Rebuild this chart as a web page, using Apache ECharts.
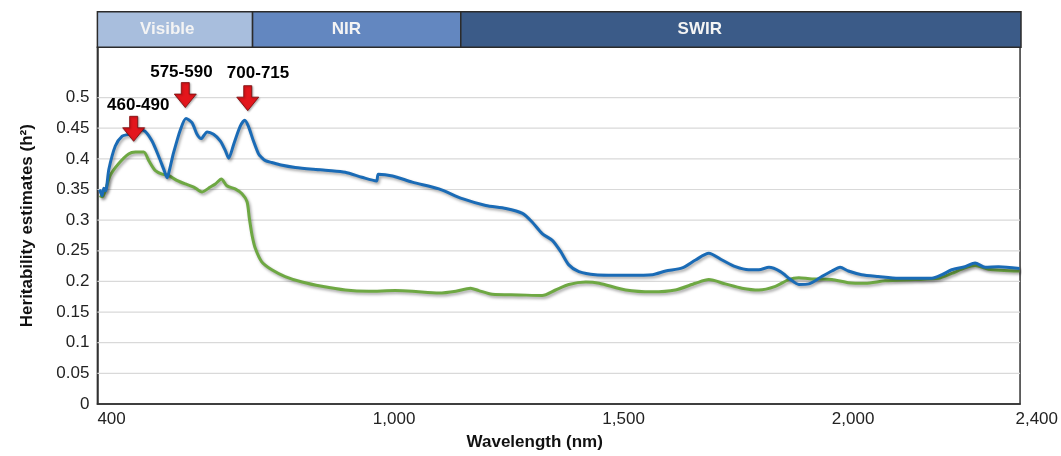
<!DOCTYPE html>
<html>
<head>
<meta charset="utf-8">
<script src="https://cdn.jsdelivr.net/npm/echarts@6/dist/echarts.min.js"></script>
<style>
html,body{margin:0;padding:0;background:#fff;}
#chart{width:1061px;height:456px;}
</style>
</head>
<body>
<div id="chart"></div>
<script>
// ---- data ----
const blueData = [
[405,0.350],[410,0.340],[414,0.352],[418,0.348],[425,0.383],[439,0.421],[454,0.437],[468,0.440],[480,0.444],[490,0.448],
[504,0.445],[519,0.429],[533,0.405],[545,0.382],[552,0.369],[558,0.385],[566,0.410],[581,0.448],[593,0.466],[606,0.459],
[617,0.440],[626,0.433],[639,0.444],[653,0.440],[668,0.429],[679,0.413],[686,0.401],[697,0.424],[711,0.453],[721,0.463],
[729,0.453],[740,0.429],[751,0.408],[758,0.402],[766,0.397],[780,0.394],[800,0.390],[831,0.386],[870,0.383],[903,0.381],
[940,0.378],[976,0.370],[1008,0.364],[1012,0.375],[1043,0.372],[1086,0.362],[1144,0.351],[1195,0.335],[1246,0.324],[1290,0.319],
[1326,0.311],[1347,0.297],[1369,0.278],[1391,0.267],[1409,0.249],[1427,0.227],[1449,0.216],[1485,0.211],[1558,0.210],[1609,0.211],
[1638,0.217],[1674,0.222],[1703,0.235],[1732,0.246],[1761,0.235],[1790,0.224],[1819,0.219],[1841,0.219],[1863,0.223],[1888,0.216],
[1910,0.203],[1928,0.195],[1950,0.196],[1978,0.208],[2000,0.217],[2018,0.223],[2036,0.217],[2065,0.211],[2101,0.208],[2145,0.205],
[2218,0.205],[2240,0.211],[2261,0.219],[2290,0.224],[2312,0.230],[2334,0.223],[2363,0.224],[2409,0.221]
];
const greenData = [
[405,0.340],[411,0.338],[418,0.350],[428,0.373],[446,0.392],[468,0.408],[483,0.411],[501,0.411],[512,0.397],[526,0.381],
[541,0.375],[555,0.373],[573,0.365],[592,0.359],[610,0.354],[628,0.346],[646,0.354],[657,0.359],[670,0.367],[682,0.356],
[700,0.351],[715,0.343],[726,0.330],[731,0.303],[737,0.275],[744,0.254],[758,0.232],[780,0.219],[809,0.208],[846,0.199],
[889,0.192],[940,0.186],[990,0.184],[1049,0.185],[1086,0.184],[1144,0.181],[1181,0.184],[1213,0.189],[1231,0.185],[1260,0.179],
[1318,0.178],[1369,0.177],[1398,0.186],[1427,0.195],[1464,0.199],[1493,0.197],[1551,0.186],[1609,0.183],[1659,0.186],[1703,0.197],
[1732,0.203],[1768,0.196],[1804,0.189],[1841,0.186],[1877,0.192],[1906,0.203],[1928,0.206],[1957,0.204],[1971,0.204],[2000,0.203],
[2036,0.198],[2073,0.197],[2116,0.201],[2181,0.203],[2232,0.205],[2261,0.213],[2290,0.222],[2312,0.226],[2341,0.220],[2409,0.217]
];
const yGridValues = [0.05,0.1,0.15,0.2,0.25,0.3,0.35,0.4,0.45,0.5];
const xLabelValues = [400,1000,1500,2000,2400];
const bandNames = ['Visible','NIR','SWIR'];
const bandStart = [400,737.7,1190.8];
const bandEnd = [737.7,1190.8,2410];
const bandLabelAt = [552,942,1711];
const arrowW = [479,591.5,727.5];
const arrowV = [0.449,0.504,0.499];
const annotText = ['460-490','575-590','700-715'];
const annotW = [489,583,750];
const annotV = [0.487,0.541,0.539];

const X_MIN = 400, X_MAX = 2410, Y_MAX = 0.582;
const FONT = '"Liberation Sans", Arial, sans-serif';
const bandColors = ['#a8bedd','#6387c0','#3b5b88'];

const chart = echarts.init(document.getElementById('chart'));
const shadow = {shadowColor:'rgba(0,0,0,0.35)', shadowBlur:3, shadowOffsetX:1.5, shadowOffsetY:2};

chart.setOption({
  animation:false,
  backgroundColor:'#fff',
  grid:[
    {left:97.4, right:40, top:47.3, bottom:49.2, show:true, borderColor:'#333', borderWidth:1.5, backgroundColor:'transparent'},
    {left:97.4, right:40, top:11.8, height:35.5, show:false}
  ],
  xAxis:[
    {type:'value', gridIndex:0, min:X_MIN, max:X_MAX, interval:100,
     axisLine:{show:true, lineStyle:{color:'#333', width:1.5}}, axisTick:{show:false}, splitLine:{show:false},
     axisLabel:{show:true, align:'left', margin:7, color:'#222', fontSize:17, fontFamily:FONT,
       showMinLabel:true, showMaxLabel:true,
       formatter:v => xLabelValues.indexOf(Math.round(v))>=0 ? Math.round(v).toLocaleString('en-US') : ''},
     name:'Wavelength (nm)', nameLocation:'middle', nameGap:30,
     nameTextStyle:{fontWeight:'bold', fontSize:17, color:'#111', fontFamily:FONT, padding:[0,48,0,0]}},
    {type:'value', gridIndex:1, min:X_MIN, max:X_MAX, show:false}
  ],
  yAxis:[
    {type:'value', gridIndex:0, min:0, max:Y_MAX, interval:0.05,
     axisLine:{show:true, lineStyle:{color:'#333', width:1.5}}, axisTick:{show:false}, splitLine:{show:false},
     axisLabel:{color:'#222', fontSize:17, fontFamily:FONT, margin:8,
       formatter:v => v>0.501 ? '' : String(+v.toFixed(2))},
     name:'Heritability estimates (h²)', nameLocation:'middle', nameGap:62,
     nameTextStyle:{fontWeight:'bold', fontSize:17, color:'#111', fontFamily:FONT}},
    {type:'value', gridIndex:1, min:0, max:1, show:false}
  ],
  series:[
    {type:'custom', xAxisIndex:0, yAxisIndex:0, z:1, silent:true,
     data: yGridValues.map(v => [X_MIN, v]),
     renderItem:(params, api) => {
       const cs = params.coordSys;
       const y = api.coord([X_MIN, api.value(1)])[1];
       return {type:'line', shape:{x1:cs.x, y1:y, x2:cs.x+cs.width, y2:y}, style:{stroke:'#d9d9d9', lineWidth:1.2}};
     }},
    {type:'custom', xAxisIndex:1, yAxisIndex:1, z:5, silent:true,
     data: bandNames.map((n,i) => [bandStart[i], bandEnd[i], bandLabelAt[i], i]),
     renderItem:(params, api) => {
       const i = api.value(3);
       const s = api.coord([api.value(0), 1]);
       const e = api.coord([api.value(1), 0]);
       const c = api.coord([api.value(2), 0.5]);
       return {type:'group', children:[
         {type:'rect', shape:{x:s[0], y:s[1], width:e[0]-s[0], height:e[1]-s[1]},
          style:{fill:bandColors[i], stroke:'#2b2b2b', lineWidth:1.5}},
         {type:'text', style:{text:bandNames[i], x:c[0], y:c[1], align:'center', verticalAlign:'middle',
          fill:'#f4f4f4', font:'bold 17px "Liberation Sans", Arial, sans-serif'}}
       ]};
     }},
    {name:'green', type:'line', xAxisIndex:0, yAxisIndex:0, z:3, data:greenData, showSymbol:false, smooth:0.25,
     lineStyle:Object.assign({color:'#6ea843', width:3}, shadow)},
    {name:'blue', type:'line', xAxisIndex:0, yAxisIndex:0, z:4, data:blueData, showSymbol:false, smooth:0.25,
     lineStyle:Object.assign({color:'#1a6bb6', width:3}, shadow)},
    {type:'scatter', xAxisIndex:0, yAxisIndex:0, z:6, silent:true,
     data: arrowW.map((w,i) => [w, arrowV[i]]),
     symbol:'path://M7,0 L15,0 L15,11 L22,11 L11,24 L0,11 L7,11 Z', symbolSize:[22,25],
     itemStyle:{color:'#e3161c', borderColor:'#7a0a0a', borderWidth:0.8, opacity:1,
       shadowColor:'rgba(0,0,0,0.3)', shadowBlur:2, shadowOffsetX:1, shadowOffsetY:1}},
    {type:'scatter', xAxisIndex:0, yAxisIndex:0, z:6, silent:true,
     data: annotW.map((w,i) => [w, annotV[i], annotText[i]]),
     symbolSize:0, itemStyle:{color:'transparent', opacity:1},
     label:{show:true, position:'inside', formatter:p => p.data[2], color:'#000', textBorderWidth:0,
       fontWeight:'bold', fontSize:17, fontFamily:FONT}}
  ]
});
</script>
</body>
</html>
